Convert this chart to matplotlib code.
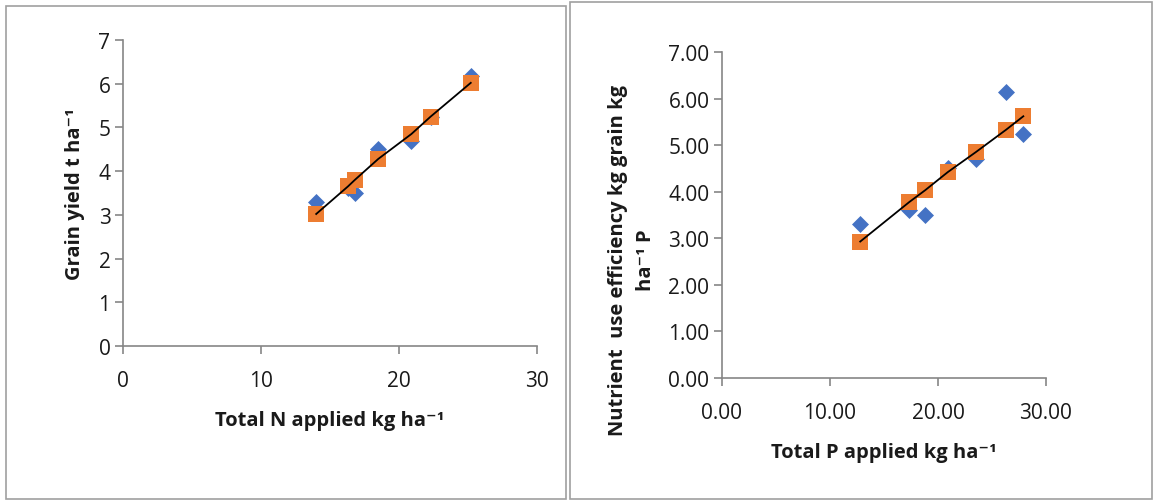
import matplotlib
matplotlib.use("Agg")
import matplotlib.pyplot as plt
from matplotlib.patches import Rectangle
import numpy as np

# ---- data ----
n_applied = [14.0, 16.3, 16.8, 18.5, 20.9, 22.3, 25.2]
n_yield_obs = [3.30, 3.62, 3.50, 4.50, 4.70, 5.25, 6.17]
n_yield_fit = [3.02, 3.65, 3.80, 4.28, 4.85, 5.25, 6.02]

p_applied = [12.8, 17.35, 18.8, 20.9, 23.5, 26.3, 27.9]
p_nue_obs = [3.30, 3.60, 3.50, 4.50, 4.70, 6.15, 5.25]
p_nue_fit = [2.93, 3.78, 4.03, 4.42, 4.85, 5.33, 5.62]

left_xticks = [0, 10, 20, 30]
left_yticks = [0, 1, 2, 3, 4, 5, 6, 7]
right_xticks = [0, 10, 20, 30]
right_yticks = [0, 1, 2, 3, 4, 5, 6, 7]

BLUE = "#4472C4"
ORANGE = "#ED7D31"
AXC = "#868686"
TXT = "#1a1a1a"

plt.rcParams['font.family'] = ['Open Sans', 'DejaVu Sans']

FS_TICK = 15
FS_LAB = 14.5
SUP = "\u207b\u00b9"

fig = plt.figure(figsize=(11.55, 5.02), dpi=100)

# panel frames
fig.patches.append(Rectangle((6/1155, 1-500/502), 560/1155, 493/502, transform=fig.transFigure,
                             fill=False, edgecolor="#a0a0a0", lw=1.2))
fig.patches.append(Rectangle((570/1155, 1-500/502), 582/1155, 497/502, transform=fig.transFigure,
                             fill=False, edgecolor="#a0a0a0", lw=1.2))

def style(ax):
    for s in ["top", "right"]:
        ax.spines[s].set_visible(False)
    for s in ["left", "bottom"]:
        ax.spines[s].set_color(AXC)
        ax.spines[s].set_linewidth(1.2)
    ax.tick_params(direction="out", length=6, width=1.2, color=AXC,
                   labelsize=FS_TICK, labelcolor=TXT, pad=3)

# left chart
ax1 = fig.add_axes([123/1155, 1-347/502, (537-123)/1155, (347-41)/502])
style(ax1)
ax1.scatter(n_applied, n_yield_obs, marker="D", s=75, color=BLUE, zorder=3, linewidths=0)
ax1.scatter(n_applied, n_yield_fit, marker="s", s=125, color=ORANGE, zorder=4, linewidths=0)
ax1.plot(n_applied, n_yield_fit, color="black", lw=1.3, zorder=5)
ax1.set_xlim(0, 30)
ax1.set_ylim(0, 7)
ax1.set_xticks(left_xticks)
ax1.set_yticks(left_yticks)
ax1.tick_params(axis="x", pad=11)
ax1.set_xlabel("Total N applied kg ha" + SUP, fontsize=FS_LAB, fontweight="bold",
               color=TXT, labelpad=14)
ax1.set_ylabel("Grain yield t ha" + SUP, fontsize=FS_LAB, fontweight="bold",
               color=TXT, labelpad=10)

# right chart
ax2 = fig.add_axes([722/1155, 1-379/502, (1046-722)/1155, (379-53)/502])
style(ax2)
ax2.scatter(p_applied, p_nue_obs, marker="D", s=75, color=BLUE, zorder=3, linewidths=0)
ax2.scatter(p_applied, p_nue_fit, marker="s", s=125, color=ORANGE, zorder=4, linewidths=0)
ax2.plot(p_applied, p_nue_fit, color="black", lw=1.3, zorder=5)
ax2.set_xlim(0, 30)
ax2.set_ylim(0, 7)
ax2.set_xticks(right_xticks)
ax2.set_xticklabels([f"{v:.2f}" for v in right_xticks])
ax2.set_yticks(right_yticks)
ax2.set_yticklabels([f"{v:.2f}" for v in right_yticks])
ax2.tick_params(axis="x", pad=11)
ax2.set_xlabel("Total P applied kg ha" + SUP, fontsize=FS_LAB, fontweight="bold",
               color=TXT, labelpad=14)
ax2.set_ylabel("Nutrient  use efficiency kg grain kg\nha" + SUP + " P", fontsize=FS_LAB,
               fontweight="bold", color=TXT, linespacing=1.5)
ax2.yaxis.set_label_coords(-0.205, 0.365)

fig.savefig("out.png", dpi=100)
